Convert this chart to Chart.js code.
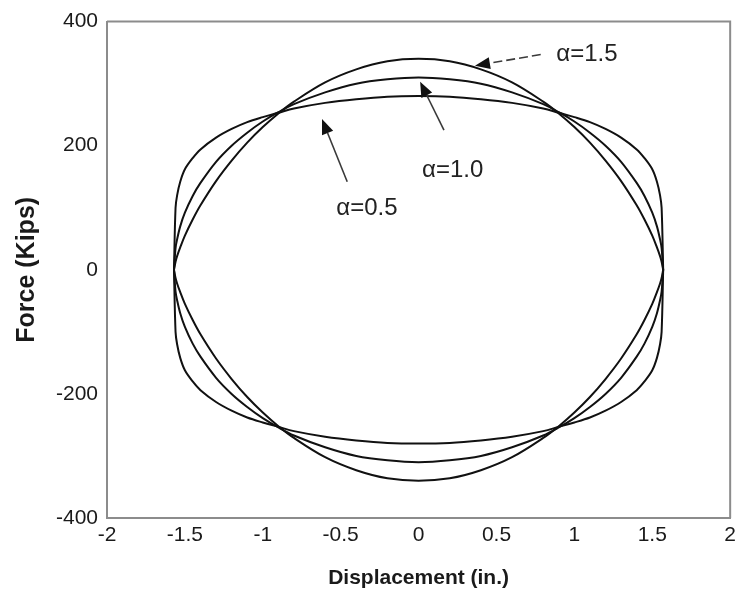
<!DOCTYPE html>
<html>
<head>
<meta charset="utf-8">
<script src="https://cdn.jsdelivr.net/npm/chart.js@4.4.1/dist/chart.umd.min.js"></script>
<style>
  html, body { margin: 0; padding: 0; background: #fff; }
  canvas { display: block; }
</style>
</head>
<body>
<canvas id="c" width="741" height="591"></canvas>
<script>
// Force–displacement loops of a viscous damper for three velocity exponents.
// Upper branch runs left to right, lower branch runs right to left.
const dispUpper = [-1.57, -1.56, -1.55, -1.53, -1.5, -1.45, -1.4, -1.3, -1.2, -1.1, -1.0, -0.9, -0.8, -0.6, -0.4, -0.2, 0,
                   0.2, 0.4, 0.6, 0.8, 0.9, 1.0, 1.1, 1.2, 1.3, 1.4, 1.45, 1.5, 1.53, 1.55, 1.56, 1.57];
const dispLower = [1.57, 1.56, 1.55, 1.53, 1.5, 1.45, 1.4, 1.3, 1.2, 1.1, 1.0, 0.9, 0.8, 0.6, 0.4, 0.2, 0,
                   -0.2, -0.4, -0.6, -0.8, -0.9, -1.0, -1.1, -1.2, -1.3, -1.4, -1.45, -1.5, -1.53, -1.55, -1.56, -1.57];

const forceUpperA05 = [0, 100, 120, 142, 162, 180, 194, 213, 227, 238, 246, 253, 260, 269, 275, 279, 280,
                       279, 275, 269, 260, 253, 246, 238, 227, 213, 194, 180, 162, 142, 120, 100, 0];
const forceLowerA05 = [0, -100, -120, -142, -162, -180, -194, -213, -227, -238, -246, -253, -260, -269, -275, -279, -280,
                       -279, -275, -269, -260, -253, -246, -238, -227, -213, -194, -180, -162, -142, -120, -100, 0];

const forceUpperA10 = [0, 35, 49, 70, 92, 119, 140, 174, 200, 221, 239, 254, 267, 286, 300, 307, 310,
                       307, 300, 286, 267, 254, 239, 221, 200, 174, 140, 119, 92, 70, 49, 35, 0];
const forceLowerA10 = [0, -35, -49, -70, -92, -119, -140, -174, -200, -221, -239, -254, -267, -286, -300, -307, -310,
                       -307, -300, -286, -267, -254, -239, -221, -200, -174, -140, -119, -92, -70, -49, -35, 0];

const forceUpperA15 = [0, 13, 22, 36, 55, 81, 104, 143, 176, 205, 230, 252, 271, 302, 323, 336, 340,
                       336, 323, 302, 271, 252, 230, 205, 176, 143, 104, 81, 55, 36, 22, 13, 0];
const forceLowerA15 = [0, -13, -22, -36, -55, -81, -104, -143, -176, -205, -230, -252, -271, -302, -323, -336, -340,
                       -336, -323, -302, -271, -252, -230, -205, -176, -143, -104, -81, -55, -36, -22, -13, 0];

const xTickValues = [-2, -1.5, -1, -0.5, 0, 0.5, 1, 1.5, 2];
const xTickLabels = ['-2', '-1.5', '-1', '-0.5', '0', '0.5', '1', '1.5', '2'];
const yTickValues = [-400, -200, 0, 200, 400];
const yTickLabels = ['-400', '-200', '0', '200', '400'];

// Callout labels with arrows, in data units
const calloutText = ['\u03b1=1.5', '\u03b1=1.0', '\u03b1=0.5'];
const calloutTextAt = [[0.884, 347], [0.022, 161], [-0.528, 99]];
const calloutTail = [[0.784, 347], [0.163, 225], [-0.458, 142]];
const calloutTip = [[0.362, 329], [0.01, 303], [-0.62, 243]];
const calloutDashed = [true, false, false];

function loop(upperY, lowerY) {
  const pts = [];
  dispUpper.forEach((x, i) => pts.push({ x: x, y: upperY[i] }));
  dispLower.forEach((x, i) => pts.push({ x: x, y: lowerY[i] }));
  return pts;
}

const FONT = '"Liberation Sans", Arial, Helvetica, sans-serif';
const FRAME = '#8c8c8c';

const framePlugin = {
  id: 'frame',
  afterDatasetsDraw(chart) {
    const { ctx, chartArea: a } = chart;
    ctx.save();
    ctx.strokeStyle = FRAME;
    ctx.lineWidth = 2;
    ctx.beginPath();
    ctx.moveTo(a.left, a.top);
    ctx.lineTo(a.right, a.top);
    ctx.lineTo(a.right, a.bottom);
    ctx.stroke();
    ctx.restore();
  }
};

const calloutPlugin = {
  id: 'callouts',
  afterDatasetsDraw(chart) {
    const { ctx, scales: { x, y } } = chart;
    ctx.save();
    calloutText.forEach((txt, i) => {
      const tx = x.getPixelForValue(calloutTail[i][0]);
      const ty = y.getPixelForValue(calloutTail[i][1]);
      const hx = x.getPixelForValue(calloutTip[i][0]);
      const hy = y.getPixelForValue(calloutTip[i][1]);
      const ang = Math.atan2(hy - ty, hx - tx);
      const headLen = 15, headHalf = 6;
      const bx = hx - headLen * Math.cos(ang);
      const by = hy - headLen * Math.sin(ang);
      ctx.strokeStyle = '#3a3a3a';
      ctx.lineWidth = 1.6;
      ctx.setLineDash(calloutDashed[i] ? [9, 4] : []);
      ctx.beginPath();
      ctx.moveTo(tx, ty);
      ctx.lineTo(bx, by);
      ctx.stroke();
      ctx.setLineDash([]);
      ctx.fillStyle = '#111';
      ctx.beginPath();
      ctx.moveTo(hx, hy);
      ctx.lineTo(bx + headHalf * Math.sin(ang), by - headHalf * Math.cos(ang));
      ctx.lineTo(bx - headHalf * Math.sin(ang), by + headHalf * Math.cos(ang));
      ctx.closePath();
      ctx.fill();

      ctx.fillStyle = '#222';
      ctx.font = '24px ' + FONT;
      ctx.textAlign = 'left';
      ctx.textBaseline = 'middle';
      ctx.fillText(txt, x.getPixelForValue(calloutTextAt[i][0]), y.getPixelForValue(calloutTextAt[i][1]));
    });
    ctx.restore();
  }
};

const lineStyle = {
  showLine: true,
  borderColor: '#111',
  borderWidth: 2,
  pointRadius: 0,
  pointHoverRadius: 0,
  tension: 0.35,
  fill: false
};

new Chart(document.getElementById('c'), {
  type: 'scatter',
  data: {
    datasets: [
      Object.assign({ label: '\u03b1=0.5', data: loop(forceUpperA05, forceLowerA05) }, lineStyle),
      Object.assign({ label: '\u03b1=1.0', data: loop(forceUpperA10, forceLowerA10) }, lineStyle),
      Object.assign({ label: '\u03b1=1.5', data: loop(forceUpperA15, forceLowerA15) }, lineStyle)
    ]
  },
  options: {
    responsive: false,
    animation: false,
    events: [],
    layout: { padding: { left: 0, right: 9, top: 19, bottom: 0 } },
    plugins: { legend: { display: false }, tooltip: { enabled: false } },
    scales: {
      x: {
        type: 'linear',
        min: -2, max: 2,
        afterBuildTicks(scale) { scale.ticks = xTickValues.map(v => ({ value: v })); },
        afterFit(scale) { scale.height = 73; },
        ticks: {
          padding: 5,
          color: '#1a1a1a',
          font: { family: FONT, size: 21 },
          maxRotation: 0,
          autoSkip: false,
          callback: (v) => xTickLabels[xTickValues.indexOf(v)]
        },
        grid: { display: false, drawTicks: false },
        border: { display: true, color: FRAME, width: 2 },
        title: {
          display: true,
          text: 'Displacement (in.)',
          color: '#1a1a1a',
          font: { family: FONT, size: 21, weight: 'bold' },
          padding: { top: 1, bottom: 0 }
        }
      },
      y: {
        type: 'linear',
        min: -400, max: 400,
        afterBuildTicks(scale) { scale.ticks = yTickValues.map(v => ({ value: v })); },
        afterFit(scale) { scale.width = 107; },
        ticks: {
          padding: 9,
          color: '#1a1a1a',
          font: { family: FONT, size: 21 },
          autoSkip: false,
          callback: (v) => yTickLabels[yTickValues.indexOf(v)]
        },
        grid: { display: false, drawTicks: false },
        border: { display: true, color: FRAME, width: 2 },
        title: {
          display: true,
          text: 'Force (Kips)',
          color: '#1a1a1a',
          font: { family: FONT, size: 25, weight: 'bold' },
          padding: { top: 12, bottom: 0 }
        }
      }
    }
  },
  plugins: [framePlugin, calloutPlugin]
});
</script>
</body>
</html>
